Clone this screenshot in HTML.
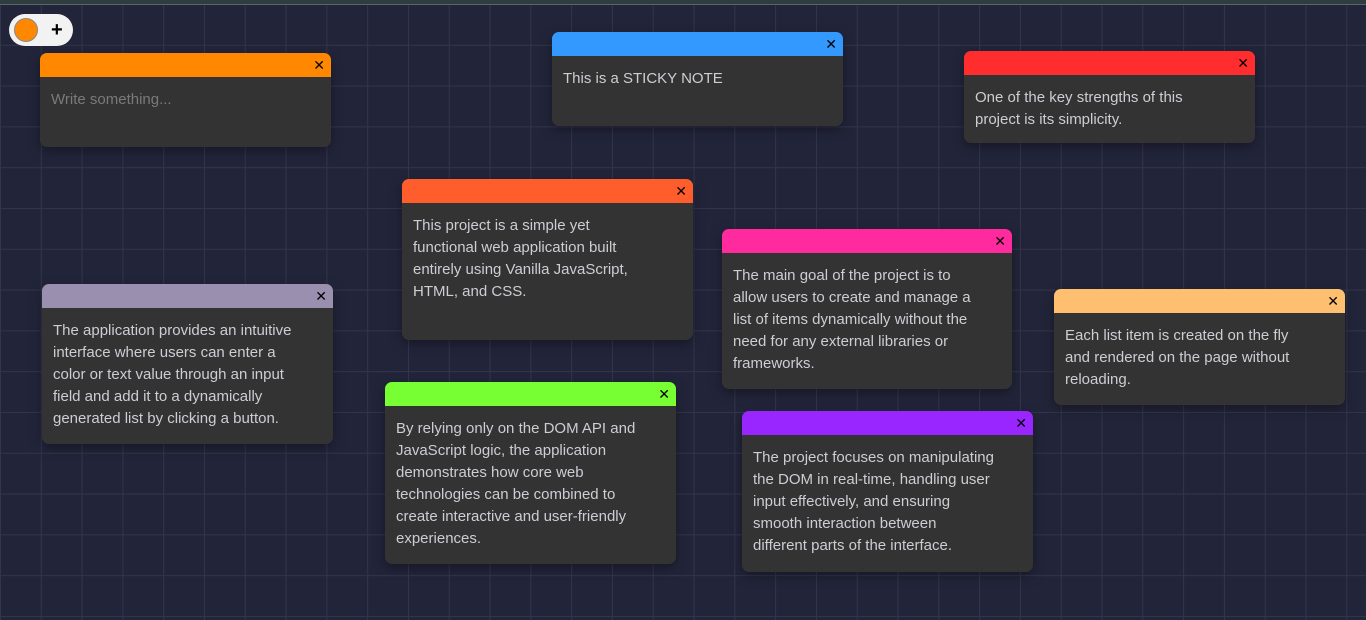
<!DOCTYPE html>
<html><head><meta charset="utf-8"><style>
html,body{margin:0;padding:0}
body{width:1366px;height:620px;overflow:hidden;position:relative;
background-color:#22243a;
background-image:linear-gradient(to right,#33354c 1px,transparent 1px),linear-gradient(to bottom,#33354c 1px,transparent 1px);
background-size:40.8px 40.8px;background-position:0px 4px;
font-family:"Liberation Sans",sans-serif}
.top{position:absolute;left:0;top:0;width:1366px;height:4px;background:#2f3d3e;border-bottom:1px solid #56666a}
.tog{position:absolute;left:9px;top:14px;width:64px;height:32px;border-radius:16px;background:#f2f2f2}
.tog .c{position:absolute;left:5px;top:4px;width:22px;height:22px;border-radius:50%;background:#ff8800;border:1px solid #888}
.tog .p{position:absolute;left:42px;top:4px;font-size:20px;font-weight:bold;color:#000;line-height:24px}
.n{position:absolute;width:291px;background:#333;border-radius:7px;box-shadow:0 4px 12px rgba(0,0,0,.35);overflow:hidden}
.n .h{height:24px;position:relative}
.n .h span{position:absolute;right:6px;top:4px;font-size:14px;color:#000;line-height:16px}
.n .b{padding:12px 11px 10px;color:#cdcdd4;font-size:15px;line-height:22px;white-space:nowrap}
</style></head><body>
<div class="top"></div>
<div class="tog"><div class="c"></div><div class="p">+</div></div>

<div class="n" style="left:40px;top:53px;height:94px"><div class="h" style="background:#ff8800"><span>✕</span></div><div class="b" style="color:#7a7a7a">Write something...</div></div>

<div class="n" style="left:552px;top:32px;height:94px"><div class="h" style="background:#3399ff"><span>✕</span></div><div class="b">This is a STICKY NOTE</div></div>

<div class="n" style="left:964px;top:51px;height:92px"><div class="h" style="background:#ff2d2d"><span>✕</span></div><div class="b">One of the key strengths of this<br>project is its simplicity.</div></div>

<div class="n" style="left:402px;top:179px;height:161px"><div class="h" style="background:#ff5e2c"><span>✕</span></div><div class="b">This project is a simple yet<br>functional web application built<br>entirely using Vanilla JavaScript,<br>HTML, and CSS.</div></div>

<div class="n" style="left:42px;top:284px;height:160px"><div class="h" style="background:#9b8fb0"><span>✕</span></div><div class="b">The application provides an intuitive<br>interface where users can enter a<br>color or text value through an input<br>field and add it to a dynamically<br>generated list by clicking a button.</div></div>

<div class="n" style="left:722px;top:229px;width:290px;height:160px"><div class="h" style="background:#ff2a9d"><span>✕</span></div><div class="b">The main goal of the project is to<br>allow users to create and manage a<br>list of items dynamically without the<br>need for any external libraries or<br>frameworks.</div></div>

<div class="n" style="left:1054px;top:289px;height:116px"><div class="h" style="background:#ffbf70"><span>✕</span></div><div class="b">Each list item is created on the fly<br>and rendered on the page without<br>reloading.</div></div>

<div class="n" style="left:385px;top:382px;height:182px"><div class="h" style="background:#77ff33"><span>✕</span></div><div class="b">By relying only on the DOM API and<br>JavaScript logic, the application<br>demonstrates how core web<br>technologies can be combined to<br>create interactive and user-friendly<br>experiences.</div></div>

<div class="n" style="left:742px;top:411px;height:161px"><div class="h" style="background:#9a26ff"><span>✕</span></div><div class="b">The project focuses on manipulating<br>the DOM in real-time, handling user<br>input effectively, and ensuring<br>smooth interaction between<br>different parts of the interface.</div></div>
</body></html>
